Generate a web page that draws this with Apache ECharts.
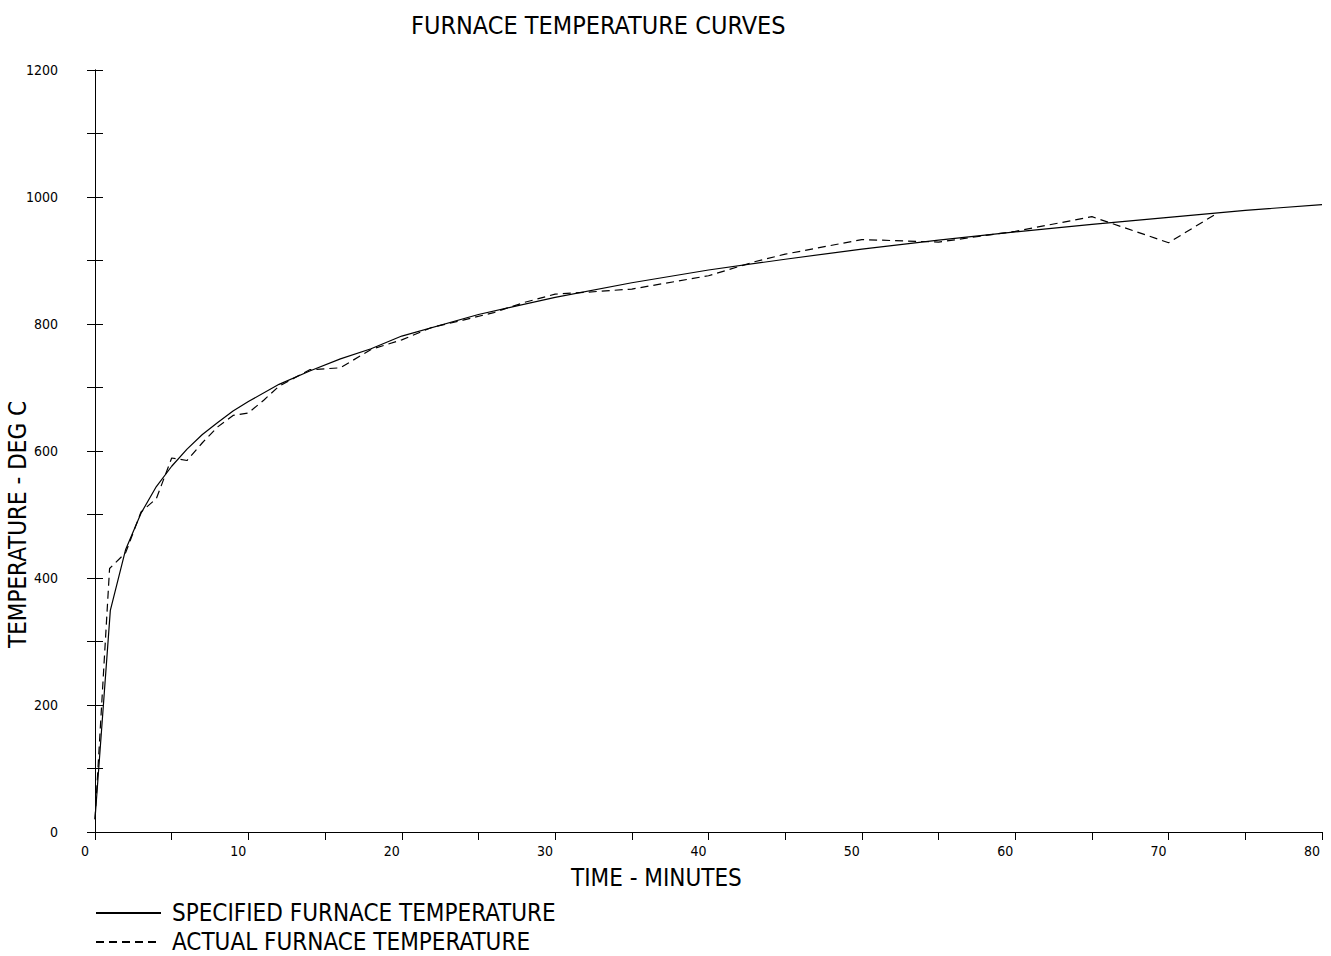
<!DOCTYPE html>
<html>
<head>
<meta charset="utf-8">
<title>Furnace Temperature Curves</title>
<script src="https://cdn.jsdelivr.net/npm/echarts@6/dist/echarts.min.js"></script>
<style>
  html, body { margin: 0; padding: 0; background: #fff; }
  #chart { width: 1331px; height: 956px; }
</style>
</head>
<body>
<div id="chart"></div>
<script>
// specified furnace curve (minutes, deg C)
var specTime = [0, 1, 2, 3, 4, 5, 6, 7, 8, 9, 10, 12, 14, 16, 18, 20, 25, 30, 35, 40, 45, 50, 55, 60, 65, 70, 75, 80]
var specTemp = [20, 349, 445, 502, 544, 576, 603, 626, 645, 663, 678, 705, 726, 745, 761, 781, 815, 842, 865, 885, 902, 918, 932, 945, 957, 968, 979, 988]

// actual furnace readings
var actualTime = [0, 0.95, 2, 3, 4, 5, 6, 7, 8, 9, 10, 11, 12, 14, 16, 18, 20, 22, 24, 26, 28, 30, 32, 35, 40, 43, 45, 50, 55, 60, 65, 70, 73.2]
var actualTemp = [20, 415, 440, 504, 525, 589, 585, 613, 638, 656, 660, 680, 702, 728, 731, 760, 775, 795, 806, 818, 834, 847, 850, 855, 876, 898, 910, 933, 929, 946, 969, 928, 975]

var xTicks = { min: 0, max: 80, step: 5, labelStep: 10 }
var yTicks = { min: 0, max: 1200, step: 100, labelStep: 200 }

var font = "'Liberation Sans Narrow', 'DejaVu Sans Condensed', 'Liberation Sans', sans-serif"

function pairs(xs, ys) {
  return xs.map(function (x, i) { return [x, ys[i]] })
}

var chart = echarts.init(document.getElementById('chart'), null, { renderer: 'svg' })

var axisLine = { show: true, lineStyle: { color: '#000', width: 1 } }

chart.setOption({
  backgroundColor: '#fff',
  animation: false,
  textStyle: { fontFamily: font, color: '#000' },
  title: {
    text: 'FURNACE TEMPERATURE CURVES',
    left: 406,
    top: 8,
    textStyle: { fontFamily: font, fontSize: 25, fontWeight: 'normal', color: '#000' }
  },
  grid: { left: 95, right: 9, top: 70, bottom: 124 },
  legend: {
    orient: 'vertical',
    left: 95,
    top: 901,
    padding: 0,
    itemWidth: 65,
    itemHeight: 14,
    itemGap: 5,
    itemStyle: { opacity: 0 },
    textStyle: { fontFamily: font, fontSize: 24, color: '#000', padding: [0, 0, 0, 6] },
    data: ['SPECIFIED FURNACE TEMPERATURE', 'ACTUAL FURNACE TEMPERATURE']
  },
  graphic: [
    {
      type: 'text',
      left: 571,
      top: 866,
      style: { text: 'TIME - MINUTES', font: '24px ' + font, fill: '#000' }
    },
    {
      type: 'text',
      x: 6,
      y: 648,
      rotation: Math.PI / 2,
      style: { text: 'TEMPERATURE - DEG C', font: '24px ' + font, fill: '#000', textVerticalAlign: 'top' }
    }
  ],
  xAxis: [
    {
      type: 'value',
      position: 'bottom',
      min: xTicks.min,
      max: xTicks.max,
      interval: xTicks.step,
      axisLine: axisLine,
      axisTick: { show: true, inside: false, length: 8, lineStyle: { color: '#000' } },
      axisLabel: {
        margin: 12,
        fontSize: 14,
        fontFamily: font,
        color: '#000',
        padding: [0, 20, 0, 0],
        formatter: function (v) { return v % xTicks.labelStep === 0 ? String(v) : '' }
      },
      splitLine: { show: false }
    },
    {
      type: 'value',
      position: 'top',
      min: xTicks.min,
      max: xTicks.max,
      interval: xTicks.step,
      axisLine: axisLine,
      axisTick: { show: true, inside: true, length: 8, lineStyle: { color: '#000' } },
      axisLabel: { show: false },
      splitLine: { show: false }
    }
  ],
  yAxis: [
    {
      type: 'value',
      position: 'left',
      min: yTicks.min,
      max: yTicks.max,
      interval: yTicks.step,
      axisLine: axisLine,
      axisTick: { show: true, inside: false, length: 8, lineStyle: { color: '#000' } },
      axisLabel: {
        margin: 37,
        fontSize: 14,
        fontFamily: font,
        color: '#000',
        formatter: function (v) { return v % yTicks.labelStep === 0 ? String(v) : '' }
      },
      splitLine: { show: false }
    },
    {
      type: 'value',
      position: 'right',
      min: yTicks.min,
      max: yTicks.max,
      interval: yTicks.step,
      axisLine: axisLine,
      axisTick: { show: true, inside: false, length: 8, lineStyle: { color: '#000' } },
      axisLabel: { show: false },
      splitLine: { show: false }
    }
  ],
  series: [
    {
      name: 'SPECIFIED FURNACE TEMPERATURE',
      type: 'line',
      symbol: 'none',
      smooth: false,
      lineStyle: { color: '#000', width: 1.2, type: 'solid' },
      itemStyle: { color: '#000' },
      data: pairs(specTime, specTemp)
    },
    {
      name: 'ACTUAL FURNACE TEMPERATURE',
      type: 'line',
      symbol: 'none',
      smooth: false,
      lineStyle: { color: '#000', width: 1.2, type: [8, 5] },
      itemStyle: { color: '#000' },
      data: pairs(actualTime, actualTemp)
    }
  ]
})
</script>
</body>
</html>
